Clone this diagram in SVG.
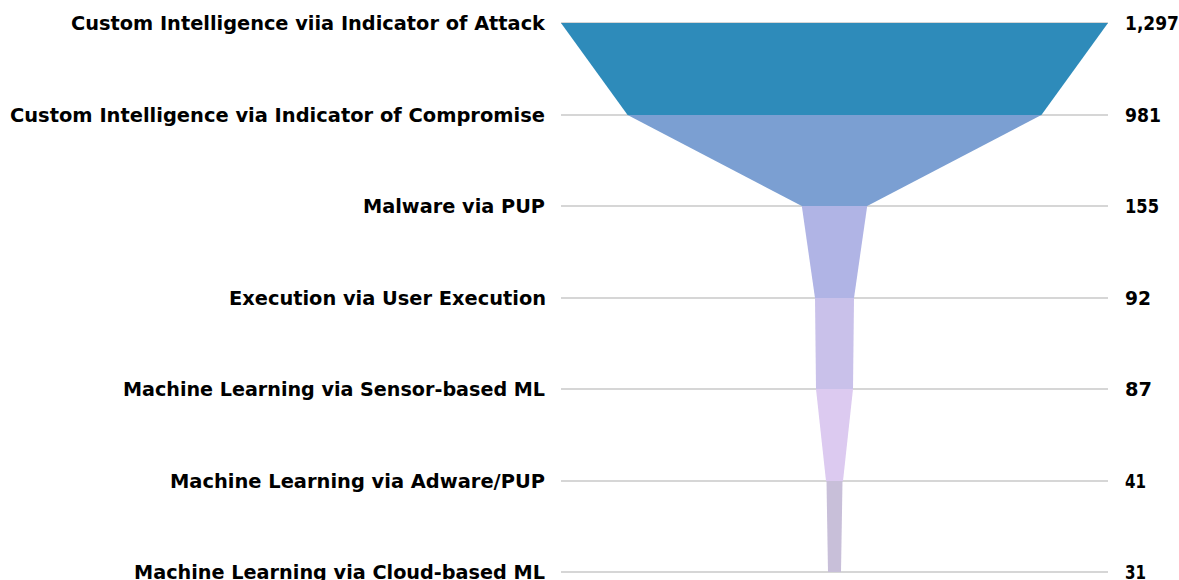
<svg xmlns="http://www.w3.org/2000/svg" width="1179" height="580" viewBox="0 0 1179 580">
  <style>
    .grid { stroke: #c8c8c8; stroke-width: 1.5; }
    .lbl { font-family: "DejaVu Sans", "Liberation Sans", sans-serif; font-weight: bold; font-size: 19px; fill: #000; text-anchor: end; }
    .val { font-family: "DejaVu Sans", "Liberation Sans", sans-serif; font-weight: bold; font-size: 19px; fill: #000; }
  </style>
  <rect width="1179" height="580" fill="#fff"/>
  <g id="gridlines">
    <line class="grid" x1="561" y1="23" x2="1108" y2="23"/>
    <line class="grid" x1="561" y1="115" x2="1108" y2="115"/>
    <line class="grid" x1="561" y1="206" x2="1108" y2="206"/>
    <line class="grid" x1="561" y1="298" x2="1108" y2="298"/>
    <line class="grid" x1="561" y1="389" x2="1108" y2="389"/>
    <line class="grid" x1="561" y1="481" x2="1108" y2="481"/>
    <line class="grid" x1="561" y1="572" x2="1108" y2="572"/>
  </g>
  <g id="connectors"></g>
  <g id="seg1"><polygon points="561,23 1108,23 1041.4,115 627.6,115" fill="#2e8bba"/></g>
  <g id="seg2"><polygon points="627.6,115 1041.4,115 867.2,206 801.8,206" fill="#7b9fd2"/></g>
  <g id="seg3"><polygon points="801.8,206 867.2,206 854,298 815,298" fill="#b0b4e5"/></g>
  <g id="seg4"><polygon points="815,298 854,298 853,389 816,389" fill="#c9c1ea"/></g>
  <g id="seg5"><polygon points="816,389 853,389 843,481 826,481" fill="#dccaf0"/></g>
  <g id="seg6"><polygon points="826.5,481 842.5,481 841,572 828,572" fill="#c8bfd9"/></g>
  <g id="labels">
    <text class="lbl" x="545" y="30" textLength="474" lengthAdjust="spacingAndGlyphs">Custom Intelligence viia Indicator of Attack</text>
    <text class="lbl" x="545" y="122" textLength="535" lengthAdjust="spacingAndGlyphs">Custom Intelligence via Indicator of Compromise</text>
    <text class="lbl" x="545" y="213" textLength="182" lengthAdjust="spacingAndGlyphs">Malware via PUP</text>
    <text class="lbl" x="546" y="305" textLength="317" lengthAdjust="spacingAndGlyphs">Execution via User Execution</text>
    <text class="lbl" x="545" y="396" textLength="422" lengthAdjust="spacingAndGlyphs">Machine Learning via Sensor-based ML</text>
    <text class="lbl" x="545" y="488" textLength="375" lengthAdjust="spacingAndGlyphs">Machine Learning via Adware/PUP</text>
    <text class="lbl" x="545" y="579" textLength="411" lengthAdjust="spacingAndGlyphs">Machine Learning via Cloud-based ML</text>
  </g>
  <g id="values">
    <text class="val" x="1125" y="30" textLength="54" lengthAdjust="spacingAndGlyphs">1,297</text>
    <text class="val" x="1125" y="122" textLength="36" lengthAdjust="spacingAndGlyphs">981</text>
    <text class="val" x="1125" y="213" textLength="34" lengthAdjust="spacingAndGlyphs">155</text>
    <text class="val" x="1125" y="305" textLength="26" lengthAdjust="spacingAndGlyphs">92</text>
    <text class="val" x="1125" y="396" textLength="27" lengthAdjust="spacingAndGlyphs">87</text>
    <text class="val" x="1125" y="488" textLength="21" lengthAdjust="spacingAndGlyphs">41</text>
    <text class="val" x="1125" y="579" textLength="21" lengthAdjust="spacingAndGlyphs">31</text>
  </g>
</svg>
